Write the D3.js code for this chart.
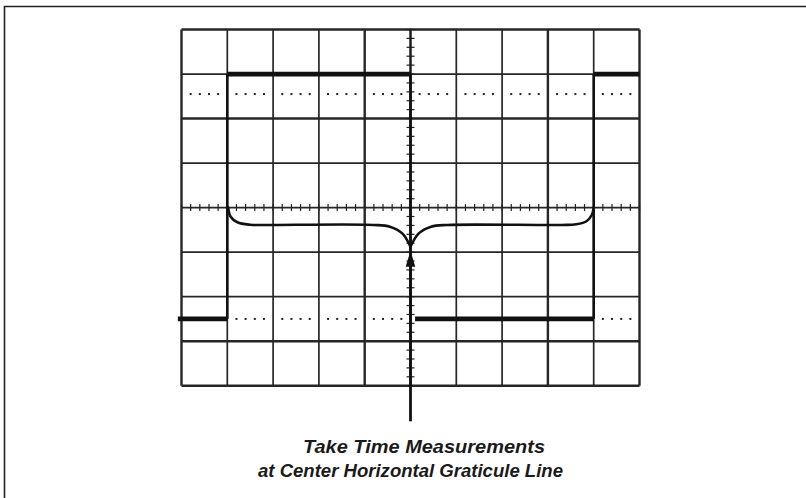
<!DOCTYPE html>
<html>
<head>
<meta charset="utf-8">
<script src="https://cdn.jsdelivr.net/npm/d3@7"></script>
<style>
  html, body { margin: 0; padding: 0; background: #fff; }
  svg { display: block; }
</style>
</head>
<body>
<script>
// ---------- data (graticule divisions) ----------
const xDivisions = [0, 1, 2, 3, 4, 5, 6, 7, 8, 9, 10];
const yDivisions = [-4, -3, -2, -1, 0, 1, 2, 3, 4];
const thickX = [0, 4, 8, 10];
const thickY = [-4, -3, 2, 4];
const minorStep = 0.2;
// dotted 0% / 100% reference lines (in divisions)
const dottedLevels = [2.55, -2.5];
const dotOffsets = [0.2, 0.4, 0.6, 0.8];
// square-wave trace: horizontal levels and vertical edges (divisions)
const levelStart = [-0.08, 1, 5.1, 9];
const levelEnd   = [1, 5, 9, 10];
const levelValue = [-2.5, 3, -2.5, 3];
const edgeX      = [1, 5, 9];
const edgeFrom   = [-2.5, 3, -2.5];
const edgeTo     = [3, -2.5, 3];
// brace marking the measured interval (divisions)
const braceLeft  = [[1.02, 0], [1.07, -0.2], [1.22, -0.33], [1.5, -0.385], [1.8, -0.39], [4.2, -0.39], [4.55, -0.43], [4.82, -0.58], [5, -0.88]];
const braceRight = [[5, -0.88], [5.18, -0.58], [5.45, -0.43], [5.8, -0.39], [8.3, -0.39], [8.62, -0.375], [8.85, -0.3], [8.96, -0.16], [9.0, 0]];
// pointer arrow (divisions)
const arrowX = 5;
const arrowTip = -0.97;
const arrowBase = -1.33;
const arrowTail = -4.8;
const captionLines = ["Take Time Measurements", "at Center Horizontal Graticule Line"];

// ---------- drawing ----------
const W = 806, H = 498;
const svg = d3.select("body").append("svg").attr("width", W).attr("height", H);
svg.append("rect").attr("width", W).attr("height", H).attr("fill", "#fff");

// outer page frame (top and left)
svg.append("path").attr("d", `M4.5,${H} L4.5,6.5 L${W},6.5`)
  .attr("fill", "none").attr("stroke", "#222").attr("stroke-width", 1.6);

const x = d3.scaleLinear().domain([0, 10]).range([181.5, 639.5]);
const y = d3.scaleLinear().domain([-4, 4]).range([385.7, 29.5]);

const gridColor = "#262626";
const g = svg.append("g");

g.selectAll("line.vx").data(xDivisions).join("line").attr("class", "vx")
  .attr("x1", d => x(d)).attr("x2", d => x(d))
  .attr("y1", y(4)).attr("y2", y(-4))
  .attr("stroke", gridColor)
  .attr("stroke-width", d => thickX.includes(d) ? 2.4 : 1.7);

g.selectAll("line.hy").data(yDivisions).join("line").attr("class", "hy")
  .attr("x1", x(0)).attr("x2", x(10))
  .attr("y1", d => y(d)).attr("y2", d => y(d))
  .attr("stroke", gridColor)
  .attr("stroke-width", d => thickY.includes(d) ? 2.4 : 1.7);

// minor ticks on center axes
const hTicks = d3.range(0, 10 + 1e-9, minorStep);
g.selectAll("line.ht").data(hTicks).join("line").attr("class", "ht")
  .attr("x1", d => x(d)).attr("x2", d => x(d))
  .attr("y1", y(0) - 3.5).attr("y2", y(0) + 3.5)
  .attr("stroke", "#222").attr("stroke-width", 1.2);
const vTicks = d3.range(-4, 4 + 1e-9, minorStep);
g.selectAll("line.vt").data(vTicks).join("line").attr("class", "vt")
  .attr("x1", x(5) - 4).attr("x2", x(5) + 4)
  .attr("y1", d => y(d)).attr("y2", d => y(d))
  .attr("stroke", "#222").attr("stroke-width", 1.2);
g.append("line")
  .attr("x1", x(5)).attr("x2", x(5)).attr("y1", y(4)).attr("y2", y(-4))
  .attr("stroke", "#1a1a1a").attr("stroke-width", 2.2);

// dotted reference lines
const dots = [];
dottedLevels.forEach(lv => {
  xDivisions.slice(0, -1).forEach(d => dotOffsets.forEach(o => dots.push([d + o, lv])));
});
g.selectAll("rect.dot").data(dots).join("rect").attr("class", "dot")
  .attr("x", d => x(d[0]) - 1).attr("y", d => y(d[1]) - 1)
  .attr("width", 2).attr("height", 2).attr("fill", "#222");

// trace
const levels = levelStart.map((s, i) => ({ s, e: levelEnd[i], v: levelValue[i] }));
g.selectAll("line.lvl").data(levels).join("line").attr("class", "lvl")
  .attr("x1", d => x(d.s)).attr("x2", d => x(d.e))
  .attr("y1", d => y(d.v)).attr("y2", d => y(d.v))
  .attr("stroke", "#111").attr("stroke-width", 4.8);
const edges = edgeX.map((e, i) => ({ e, a: edgeFrom[i], b: edgeTo[i] }));
g.selectAll("line.edge").data(edges).join("line").attr("class", "edge")
  .attr("x1", d => x(d.e)).attr("x2", d => x(d.e))
  .attr("y1", d => y(d.a)).attr("y2", d => y(d.b))
  .attr("stroke", "#111").attr("stroke-width", 2.6);

// brace
const braceLine = d3.line().x(d => x(d[0])).y(d => y(d[1])).curve(d3.curveCatmullRom.alpha(0.5));
[braceLeft, braceRight].forEach(b => {
  g.append("path").attr("d", braceLine(b))
    .attr("fill", "none").attr("stroke", "#111").attr("stroke-width", 2.6)
    .attr("stroke-linecap", "round");
});

// arrow
g.append("line")
  .attr("x1", x(arrowX)).attr("x2", x(arrowX))
  .attr("y1", y(arrowBase)).attr("y2", y(arrowTail))
  .attr("stroke", "#111").attr("stroke-width", 2.8);
g.append("path")
  .attr("d", `M${x(arrowX)},${y(arrowTip)} L${x(arrowX) + 4.8},${y(arrowBase)} L${x(arrowX) - 4.8},${y(arrowBase)} Z`)
  .attr("fill", "#111");

// caption
const cap = svg.append("g")
  .attr("font-family", "'Liberation Sans', Arial, Helvetica, sans-serif")
  .attr("font-style", "italic").attr("font-weight", "bold")
  .attr("font-size", 18).attr("fill", "#1a1a1a");
cap.append("text").attr("x", 303).attr("y", 453).attr("textLength", 242)
  .attr("lengthAdjust", "spacingAndGlyphs").text(captionLines[0]);
cap.append("text").attr("x", 258).attr("y", 477).attr("textLength", 305)
  .attr("lengthAdjust", "spacingAndGlyphs").text(captionLines[1]);
</script>
</body>
</html>
